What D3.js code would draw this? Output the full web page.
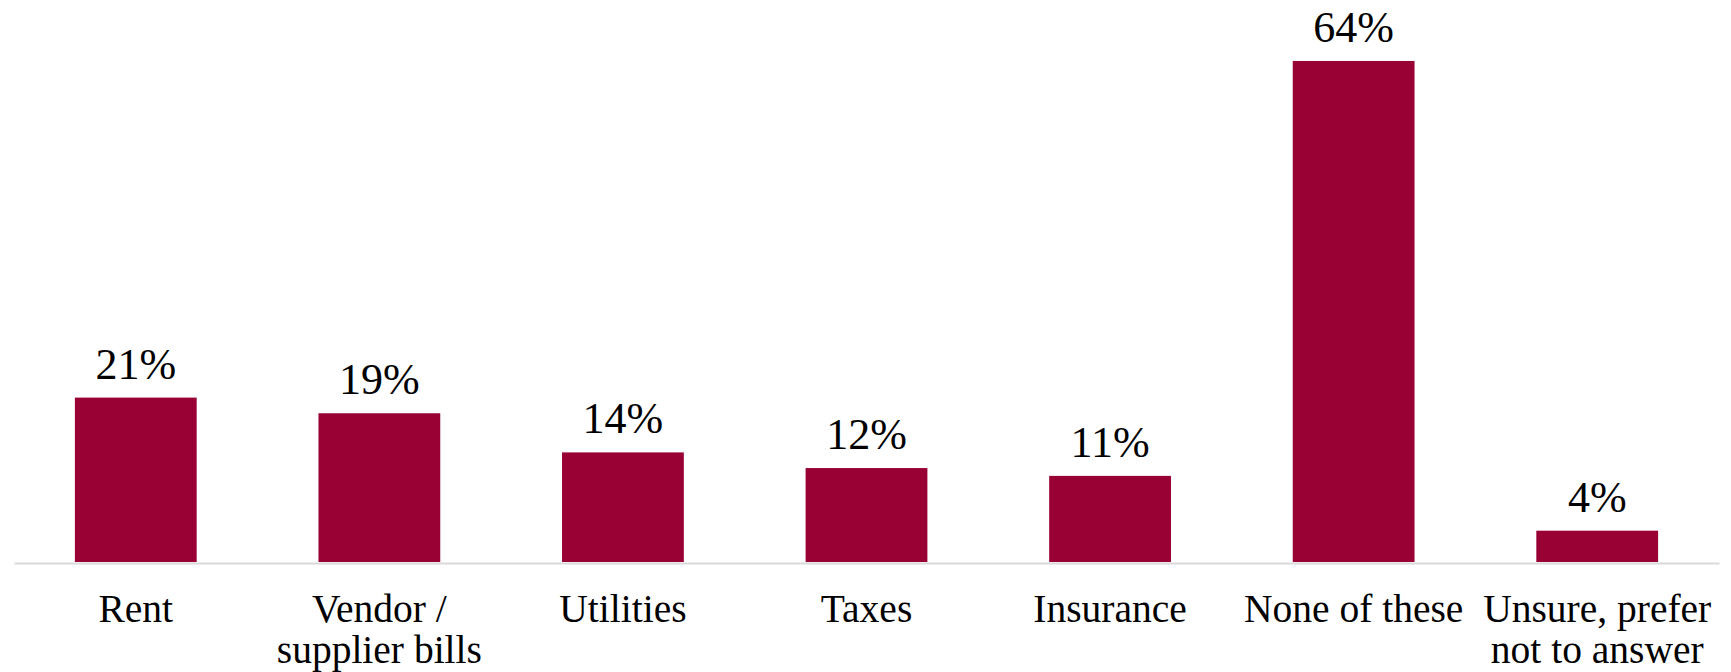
<!DOCTYPE html>
<html>
<head>
<meta charset="utf-8">
<script src="https://cdn.jsdelivr.net/npm/d3@7"></script>
<style>
  html, body { margin: 0; padding: 0; background: #ffffff; }
  svg { display: block; }
</style>
</head>
<body>
<svg id="chart" width="1731" height="672"></svg>
<script>
// Share of respondents by bill type (percent)
const categories = [
  ["Rent"],
  ["Vendor /", "supplier bills"],
  ["Utilities"],
  ["Taxes"],
  ["Insurance"],
  ["None of these"],
  ["Unsure, prefer", "not to answer"]
];
const values = [21, 19, 14, 12, 11, 64, 4];
const valueLabels = ["21%", "19%", "14%", "12%", "11%", "64%", "4%"];

const width = 1731, height = 672;
const margin = { left: 14, right: 12, bottom: 110 };
const baseY = height - margin.bottom;   // baseline of the bars
const barColor = "#990033";
const fontFamily = "'Liberation Serif', 'Times New Roman', serif";

const svg = d3.select("#chart");
const keys = categories.map((c, i) => i);

const x = d3.scaleBand()
  .domain(keys)
  .range([margin.left, width - margin.right])
  .paddingInner(0.5)
  .paddingOuter(0.25);

const y = d3.scaleLinear()
  .domain([0, 70])
  .range([baseY, baseY - 548]);

// bars
svg.append("g")
  .selectAll("rect")
  .data(values)
  .join("rect")
  .attr("x", (d, i) => x(i))
  .attr("y", d => y(d))
  .attr("width", x.bandwidth())
  .attr("height", d => y(0) - y(d))
  .attr("fill", barColor);

// category axis
const xAxis = d3.axisBottom(x).tickSize(0).tickFormat(() => "");
const axisG = svg.append("g")
  .attr("transform", `translate(0,${baseY + 1})`)
  .call(xAxis);
axisG.select(".domain")
  .attr("stroke", "#d9d9d9")
  .attr("stroke-width", 2);

// multi-line category labels
axisG.selectAll(".tick").each(function(d) {
  const t = d3.select(this).append("text")
    .attr("text-anchor", "middle")
    .attr("fill", "#000")
    .style("font-family", fontFamily)
    .style("font-size", "39.5px");
  categories[d].forEach((line, j) => {
    t.append("tspan")
      .attr("x", 0)
      .attr("y", 59 + j * 41)
      .text(line);
  });
});

// value labels above bars
svg.append("g")
  .selectAll("text")
  .data(values)
  .join("text")
  .attr("x", (d, i) => x(i) + x.bandwidth() / 2)
  .attr("y", d => y(d) - 19)
  .attr("text-anchor", "middle")
  .attr("fill", "#000")
  .style("font-family", fontFamily)
  .style("font-size", "44px")
  .text((d, i) => valueLabels[i]);
</script>
</body>
</html>
